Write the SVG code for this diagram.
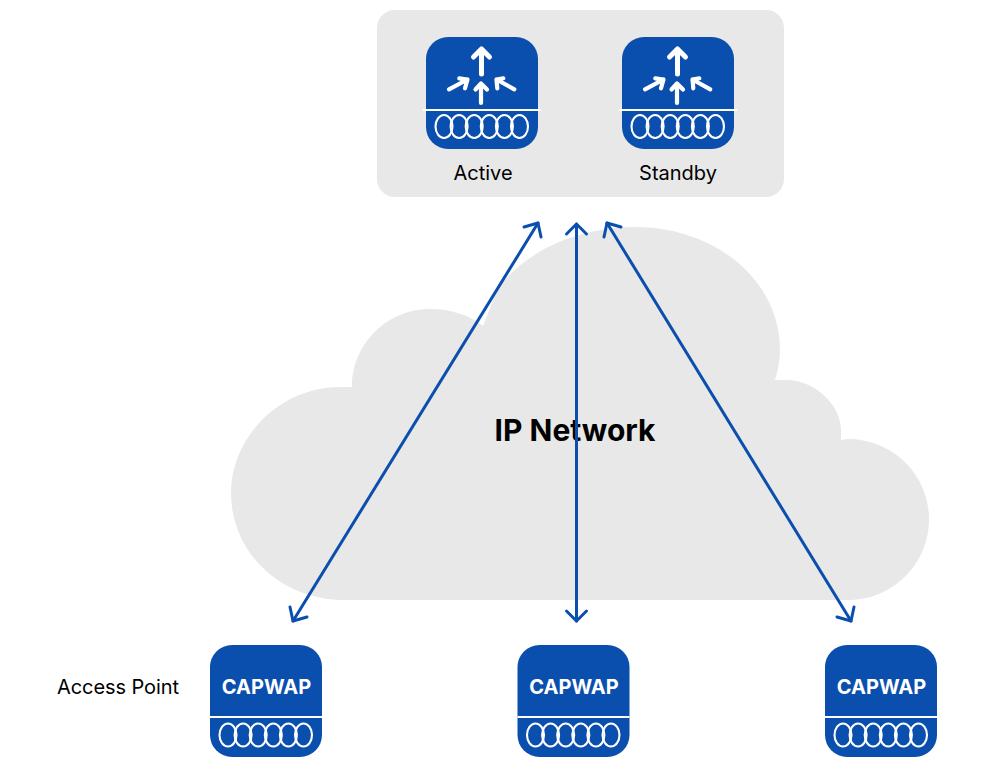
<svg xmlns="http://www.w3.org/2000/svg" width="981" height="770" viewBox="0 0 981 770">
<style>
.bg{fill:#e8e8e8}
.body{fill:#0b4fae}
.wl{stroke:#fff;stroke-width:2;fill:none}
.coil{stroke:#fff;stroke-width:2.1;fill:none}
.ar{stroke:#fff;stroke-width:5;fill:none;stroke-linecap:round;stroke-linejoin:round}
.ar2{stroke:#fff;stroke-width:4.2;fill:none;stroke-linecap:round;stroke-linejoin:round}
.conn{stroke:#0b4fae;stroke-width:3;fill:none;stroke-linecap:round;stroke-linejoin:round}
text{font-family:"Inter","Liberation Sans",sans-serif;fill:#000}
.lab{font-size:20px}
.cap{font-size:20px;font-weight:700;fill:#fff;text-anchor:middle}
</style>
<defs>
<g id="coils">
<ellipse cx="18" cy="0" rx="8.5" ry="11.5" class="coil"/>
<ellipse cx="33.1" cy="0" rx="8.5" ry="11.5" class="coil"/>
<ellipse cx="48.2" cy="0" rx="8.5" ry="11.5" class="coil"/>
<ellipse cx="63.3" cy="0" rx="8.5" ry="11.5" class="coil"/>
<ellipse cx="78.4" cy="0" rx="8.5" ry="11.5" class="coil"/>
<ellipse cx="93.5" cy="0" rx="8.5" ry="11.5" class="coil"/>
</g>
<g id="ctrl">
<rect x="0" y="0" width="112" height="112" rx="22" class="body"/>
<path d="M-3 73H115" class="wl"/>
<use href="#coils" y="89.5"/>
<path d="M55.5 37V12M47.5 20L55.5 12L63.5 20" class="ar"/>
<path d="M55 66V46.5M49.5 52.5L55 46.5L61 52.5" class="ar2"/>
<path d="M23 52.3L41.5 42.5M33.3 41.3L41.5 42.5L39 51.3" class="ar2"/>
<path d="M88.3 52.3L70.5 42.5M77.3 41.3L70.5 42.5L71.3 51.3" class="ar2"/>
</g>
<g id="ap">
<rect x="0" y="0" width="112" height="112" rx="22" class="body"/>
<path d="M0 72H112" class="wl"/>
<use href="#coils" y="90"/>
<text x="56.5" y="49" class="cap">CAPWAP</text>
</g>
</defs>
<g id="cloud">
<path class="bg" d="M345 600H848C893 600 929 564 929 519C929 475 893 439 848 439L841 440V430C841 405 815 380 786 380H775C778 370 780 360 780 350C780 280 715 227 635 227C580 227 525 250 497 290L483 326C470 315 450 309 430 309C387 309 352 344 352 387H340C280 387 231 437 231 493C231 552 280 600 345 600Z"/>
<text x="575" y="441" font-size="30" font-weight="700" text-anchor="middle">IP Network</text>
</g>
<g id="panel">
<rect x="377" y="10" width="407" height="187" rx="18" class="bg"/>
</g>
<g id="active">
<use href="#ctrl" x="426" y="37"/>
<text x="483" y="180" class="lab" text-anchor="middle">Active</text>
</g>
<g id="standby">
<use href="#ctrl" x="622" y="37"/>
<text x="678" y="180" class="lab" text-anchor="middle">Standby</text>
</g>
<g id="connectors">
<path class="conn" d="M293 621L538 223"/>
<path class="conn" d="M524 227L538 223L541 237"/>
<path class="conn" d="M293 621L307 617M293 621L290 607"/>
<path class="conn" d="M576.5 621V224"/>
<path class="conn" d="M566.5 234L576.5 224L586.5 234"/>
<path class="conn" d="M566.5 611L576.5 621L586.5 611"/>
<path class="conn" d="M851 621L607 223"/>
<path class="conn" d="M621 227L607 223L604 237"/>
<path class="conn" d="M851 621L837 617M851 621L854 607"/>
</g>
<g id="ap1">
<use href="#ap" x="210" y="645"/>
</g>
<g id="ap2">
<use href="#ap" x="517.5" y="645"/>
</g>
<g id="ap3">
<use href="#ap" x="825" y="645"/>
</g>
<g id="ap-label">
<text x="57" y="694" class="lab" textLength="122">Access Point</text>
</g>
</svg>
